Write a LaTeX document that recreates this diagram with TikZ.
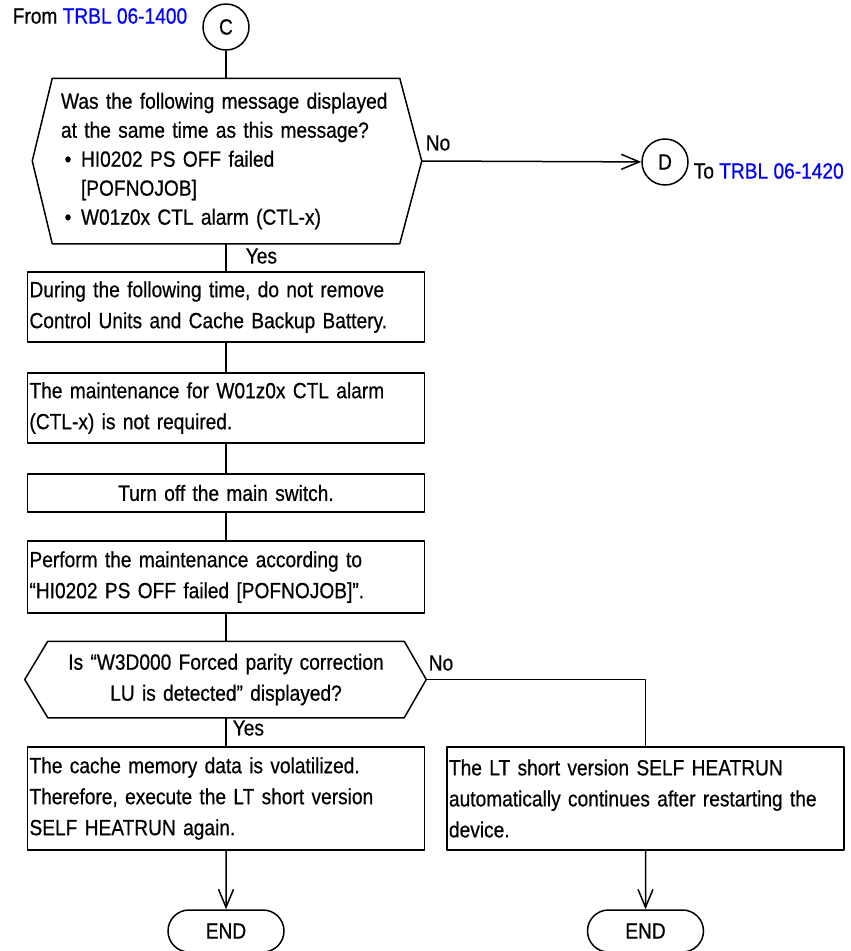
\documentclass[tikz,border=0pt]{standalone}
\usepackage{fontspec}
\setmainfont{Liberation Sans}[FakeStretch=0.87,FakeBold=0.6]
\usetikzlibrary{arrows.meta,shapes.misc}
\hyphenpenalty=10000
\begin{document}
\begin{tikzpicture}[x=1pt, y=-1pt, line join=round, line width=1.5pt,
    font=\fontsize{22pt}{31pt}\selectfont,
    proc/.style={draw, inner xsep=2pt, inner ysep=0pt, text width=393pt, align=left},
    ask/.style={inner xsep=8pt, inner ysep=0pt},
    conn/.style={circle, draw, minimum size=46pt, inner sep=0pt},
    termin/.style={rounded rectangle, draw, minimum width=116pt, minimum height=42pt, inner sep=0pt},
    lab/.style={inner sep=0pt, anchor=west},
    flow/.style={-{Straight Barb[length=18pt,width=15pt]}}]
	\useasboundingbox (0,0) rectangle (851,951);
	\node[lab] (from) at (12,16) {From \textcolor{blue}{TRBL 06-1400}};
	\node[conn] (c) at (226,27) {C};
	\node[ask, text width=330pt, minimum height=164pt, align=left, font=\fontsize{22pt}{29pt}\selectfont] (q1) at (226,161)
		{Was the following message displayed\\at the same time as this message?\\
		\makebox[20pt][l]{\,\textbullet}HI0202 PS OFF failed\\\hspace*{20pt}[POFNOJOB]\\
		\makebox[20pt][l]{\,\textbullet}W01z0x CTL alarm (CTL-x)};
	\draw (q1.north west) -- (q1.north east) -- ([xshift=22pt]q1.east) coordinate (q1r) -- (q1.south east) -- (q1.south west) -- ([xshift=-20pt]q1.west) -- cycle;
	\node[conn] (d) at (665,162) {D};
	\node[lab] (to) at (693,171) {To \textcolor{blue}{TRBL 06-1420}};
	\node[proc, minimum height=70pt] (b1) at (226,307) {During the following time, do not remove\\Control Units and Cache Backup Battery.};
	\node[proc, minimum height=70pt] (b2) at (226,408) {The maintenance for W01z0x CTL alarm\\(CTL-x) is not required.};
	\node[proc, minimum height=38pt, align=center] (b3) at (226,493) {Turn off the main switch.};
	\node[proc, minimum height=72pt] (b4) at (226,577) {Perform the maintenance according to\\“HI0202 PS OFF failed [POFNOJOB]”.};
	\node[ask, text width=339pt, minimum height=75pt, align=center] (q2) at (226,679.5)
		{Is “W3D000 Forced parity correction\\LU is detected” displayed?};
	\draw (q2.north west) -- (q2.north east) -- ([xshift=22pt]q2.east) coordinate (q2r) -- (q2.south east) -- (q2.south west) -- ([xshift=-23pt]q2.west) -- cycle;
	\node[proc, minimum height=103pt] (b5) at (226,798.5) {The cache memory data is volatilized.\\Therefore, execute the LT short version\\SELF HEATRUN again.};
	\node[proc, minimum height=103pt] (b6) at (645.5,798.5) {The LT short version SELF HEATRUN\\automatically continues after restarting the\\device.};
	\node[termin] (e1) at (226,931) {END};
	\node[termin] (e2) at (645.5,931) {END};
	\draw (c) -- (q1);
	\draw[flow] (q1r) -- (d);
	\node[lab] (no1) at (425,143) {No};
	\draw (q1) -- (b1);
	\node[lab] (yes1) at (245,256) {Yes};
	\draw (b1) -- (b2) (b2) -- (b3) (b3) -- (b4) (b4) -- (q2);
	\draw (q2) -- (b5);
	\node[lab] (yes2) at (232,728) {Yes};
	\draw (q2r) -| (b6);
	\node[lab] (no2) at (428,663) {No};
	\draw[flow] (b5) -- (e1);
	\draw[flow] (b6) -- (e2);
\end{tikzpicture}
\end{document}
